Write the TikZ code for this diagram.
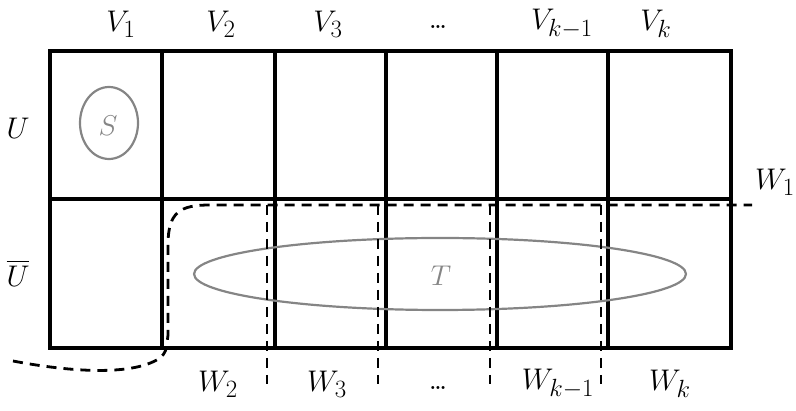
\documentclass[tikz,border=0pt]{standalone}
\usepackage{amsmath}
\begin{document}
\begin{tikzpicture}[x=1pt,y=-1pt,
  gridline/.style={line width=3.2pt},
  cut/.style={line width=2.8pt, dash pattern=on 10pt off 7pt},
  setell/.style={draw=black!48, line width=2.2pt},
  lab/.style={font=\fontsize{24.88}{28}\selectfont, inner sep=0pt, scale=1.2},
  dotlab/.style={font=\fontsize{21}{24}\selectfont\bfseries, inner sep=0pt},
  setlab/.style={font=\fontsize{24.88}{28}\selectfont, inner sep=0pt, scale=1.15, text=black!48}]
\useasboundingbox (0,0) rectangle (796,411);
% grid
\draw[gridline] (50,51) rectangle (731,348);
\draw[gridline] (50,199) -- (731,199);
\foreach \x in {162,275,386,497,608} \draw[gridline] (\x,51) -- (\x,348);
% sets
\draw[setell] (109,123) ellipse [x radius=29, y radius=36];
\node[setlab] (S) at (108,126) {$S$};
\draw[setell] (440,274) ellipse [x radius=246, y radius=36];
\node[setlab] (T) at (441,276) {$T$};
% labels
\node[lab] (V1) at (121,24) {$V_1$};
\node[lab] (V2) at (221,24) {$V_2$};
\node[lab] (V3) at (328,24) {$V_3$};
\node[dotlab] (Vd) at (438,27) {\ldots};
\node[lab] (Vk1) at (562,24) {$V_{k-1}$};
\node[lab] (Vk) at (656,24) {$V_k$};
\node[lab] (U) at (18,128) {$U$};
\node[lab] (Ub) at (18,273) {$\overline{U}$};
\node[lab] (W1) at (775,182) {$W_1$};
\node[lab] (W2) at (218,384) {$W_2$};
\node[lab] (W3) at (327,384) {$W_3$};
\node[dotlab] (Wd) at (438,388) {\ldots};
\node[lab] (Wk1) at (558,384) {$W_{k-1}$};
\node[lab] (Wk) at (670,384) {$W_k$};
% cut lines
\coordinate (c0) at (13,361);
\coordinate (c1) at (160,358);
\coordinate (c2) at (168,335);
\coordinate (c3) at (168,245);
\coordinate (c4) at (210,205);
\coordinate (c5) at (752,205);
\draw[cut] (c0) .. controls (60,370) and (130,378) .. (c1)
  .. controls (166,352) .. (c2) -- (c3)
  .. controls (168,212) and (180,205) .. (c4) -- (c5);
\foreach \x in {267,378,490,601}{
  \coordinate (t\x) at (\x,205);
  \coordinate (b\x) at (\x,384);
  \draw[cut] (t\x) -- (b\x);
}
\end{tikzpicture}
\end{document}
